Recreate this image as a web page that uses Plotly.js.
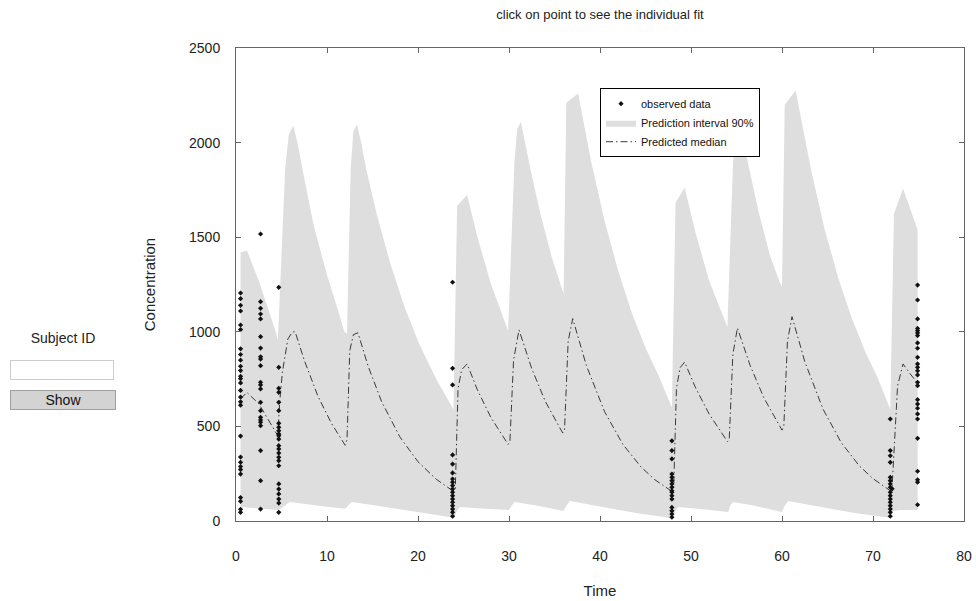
<!DOCTYPE html>
<html>
<head>
<meta charset="utf-8">
<script src="https://cdn.plot.ly/plotly-3.0.1.min.js"></script>
<style>
  html, body { margin: 0; padding: 0; background: #fff; font-family: "Liberation Sans", Arial, sans-serif; }
  #chart { position: absolute; left: 0; top: 0; width: 976px; height: 601px; }
  #panel { position: absolute; left: 0; top: 0; z-index: 10; }
  #lbl { position: absolute; left: 10px; top: 330px; width: 106px; text-align: center; font-size: 14px; color: #222; }
  #sid { position: absolute; left: 10px; top: 360px; width: 102px; height: 18px; border: 1px solid #ccc; padding: 0; margin: 0; }
  #btn { position: absolute; left: 10px; top: 390px; width: 106px; height: 20px; background: #d3d3d3; border: 1px solid #a0a0a0; font-size: 14px; font-family: "Liberation Sans", Arial, sans-serif; color: #111; padding: 0; margin: 0; }
</style>
</head>
<body>
<div id="chart"></div>
<div id="panel">
  <div id="lbl">Subject ID</div>
  <input id="sid" type="text">
  <button id="btn">Show</button>
</div>
<script>
// ---- Prediction interval 90%: upper bound ----
var upperTime = [0.5, 1.2, 2.5, 3.5, 4.3, 4.6, 5.0, 5.4, 5.8, 6.3, 6.8, 7.3, 8.5, 10, 11.3, 11.9, 12.2, 12.6, 12.9, 13.3, 13.8, 14.3, 15.5, 17, 18.5, 20.1, 22, 23.9,
  24.3, 25.4, 26.5, 28, 29.9, 30.6, 30.9, 31.3, 32.4, 33.5, 34.7, 35.8, 36.0, 36.3, 37.6, 39, 40.5, 42, 43.5, 45, 46.5, 47.9,
  48.3, 49.3, 50.5, 52, 53.8, 54.0, 54.6, 54.9, 55.3, 56.4, 57.5, 58.7, 59.8, 60.0, 60.3, 61.5, 63.2, 64.7, 66.2, 67.7, 69.2, 70.5, 71.9,
  72.3, 73.3, 74.2, 74.9];
var upperConc = [1420, 1430, 1270, 1130, 1010, 955, 1400, 1860, 2040, 2090, 1990, 1860, 1570, 1300, 1100, 1000, 990, 1860, 2060, 2095, 1990, 1860, 1615, 1354, 1134, 940, 750, 590,
  1665, 1723, 1506, 1255, 1006, 1900, 2070, 2110, 1850, 1614, 1394, 1220, 1200, 2210, 2260, 1905, 1587, 1321, 1100, 916, 763, 600,
  1681, 1763, 1523, 1269, 1040, 1025, 1870, 2070, 2120, 1860, 1620, 1400, 1255, 1240, 2200, 2275, 1855, 1540, 1282, 1068, 889, 759, 590,
  1622, 1757, 1640, 1540];

// ---- Prediction interval 90%: lower bound ----
var lowerTime = [0.5, 2.5, 4.7, 5.2, 5.9, 8, 10, 12.0, 12.3, 12.7, 15, 18, 21, 23.8, 24.0, 24.3, 24.6, 27, 30.0, 30.3, 30.6, 33, 36.0, 36.3, 36.7, 40, 44, 47.8, 48.0, 48.3, 48.6,
  51, 54.1, 54.3, 54.6, 57, 60.0, 60.3, 60.7, 64, 68, 71.6, 71.9, 72.2, 73.0, 74.9];
var lowerConc = [74, 66, 58, 75, 100, 86, 75, 65, 80, 100, 85, 62, 38, 18, 18, 55, 74, 66, 58, 80, 100, 82, 53, 80, 106, 76, 42, 16, 16, 55, 74,
  64, 48, 80, 100, 80, 48, 80, 106, 76, 42, 18, 18, 53, 58, 58];

// ---- Predicted median ----
var medianTime = [0.5, 1.2, 2.5, 3.5, 4.3, 4.6, 4.8, 5.1, 5.7, 6.2, 6.5, 7.5, 9, 10.5, 12.0, 12.2, 12.5, 12.9, 13.4, 14.5, 16, 18, 20, 22, 23.8,
  24.1, 24.4, 24.8, 25.4, 26.5, 28, 29.9, 30.1, 30.5, 31.1, 32.5, 34, 35.9, 36.1, 36.5, 37.0, 38.5, 40.5, 42.5, 44.5, 46, 47.8,
  48.1, 48.4, 48.8, 49.3, 50.5, 52, 54.0, 54.2, 54.6, 55.1, 56.5, 58, 60.0, 60.2, 60.6, 61.1, 62.5, 64.5, 66.5, 68.5, 70, 71.9,
  72.1, 72.7, 73.3, 74.1, 74.8];
var medianConc = [645, 680, 620, 540, 475, 450, 629, 787, 962, 999, 1000, 850, 660, 515, 400, 430, 900, 985, 995, 821, 631, 445, 313, 221, 160,
  170, 700, 800, 830, 696, 548, 405, 420, 850, 1010, 805, 631, 465, 480, 950, 1070, 822, 578, 406, 286, 219, 160,
  180, 700, 810, 840, 704, 565, 420, 430, 880, 1020, 822, 652, 480, 500, 950, 1080, 843, 592, 415, 291, 224, 160,
  180, 714, 830, 777, 734];

// ---- Observed data (grouped by sampling time) ----
var obsTimes = [0.5, 2.7, 4.7, 23.8, 47.9, 71.9, 72.1, 74.9];
var obsConc = [
  [1205, 1175, 1140, 1110, 1036, 1012, 910, 880, 850, 818, 795, 765, 752, 730, 690, 655, 630, 612, 449, 338, 310, 288, 272, 248, 124, 104, 62, 46],
  [1517, 1159, 1124, 1094, 1068, 974, 914, 868, 856, 821, 733, 719, 698, 627, 583, 548, 534, 522, 504, 372, 213, 63],
  [1235, 812, 701, 680, 627, 583, 516, 495, 477, 460, 451, 433, 398, 381, 359, 337, 319, 292, 196, 169, 143, 116, 95, 46],
  [1262, 807, 719, 349, 301, 254, 222, 205, 187, 169, 152, 134, 116, 99, 81, 63, 46, 25],
  [424, 372, 328, 248, 231, 213, 196, 178, 160, 152, 134, 116, 72, 54, 37, 20],
  [539, 372, 345, 310, 231, 213, 196, 178, 152, 134, 116, 99, 81, 63, 46, 25],
  [170],
  [1247, 1168, 1068, 1018, 1006, 994, 980, 941, 913, 865, 830, 812, 794, 772, 733, 715, 641, 618, 596, 566, 539, 437, 263, 218, 205, 86]
];

// tick labels
var xTicks = [0, 10, 20, 30, 40, 50, 60, 70, 80];
var yTicks = [0, 500, 1000, 1500, 2000, 2500];

// build band polygon and flatten observations
var bandX = upperTime.concat(lowerTime.slice().reverse());
var bandY = upperConc.concat(lowerConc.slice().reverse());
var obsX = [], obsY = [];
obsTimes.forEach(function (t, i) {
  obsConc[i].forEach(function (c) { obsX.push(t); obsY.push(c); });
});

var FONT = '"Liberation Sans", Arial, sans-serif';
var NARROW = '"Liberation Sans Narrow", "Arial Narrow", "Liberation Sans", Arial, sans-serif';

var traces = [
  {
    x: bandX, y: bandY, type: 'scatter', mode: 'lines', fill: 'toself',
    fillcolor: '#dedede', line: { width: 0, color: '#dedede' },
    name: 'Prediction interval 90%', legendrank: 2, hoverinfo: 'skip'
  },
  {
    x: medianTime, y: medianConc, type: 'scatter', mode: 'lines',
    line: { color: '#3a3a3a', width: 1, dash: '7px,3px,1.5px,3px' },
    name: 'Predicted median', legendrank: 3
  },
  {
    x: obsX, y: obsY, type: 'scatter', mode: 'markers',
    marker: { symbol: 'diamond', size: 4, color: '#111' },
    name: 'observed data', legendrank: 1
  }
];

var axisCommon = {
  showline: true, mirror: 'ticks', linecolor: '#666', linewidth: 1,
  ticks: 'inside', ticklen: 5, tickcolor: '#666', showgrid: false, zeroline: false,
  tickfont: { family: FONT, size: 14, color: '#222' }
};

var layout = {
  width: 976, height: 601,
  margin: { l: 236, r: 12, t: 48, b: 80 },
  paper_bgcolor: '#fff', plot_bgcolor: '#fff',
  title: {
    text: 'click on point to see the individual fit',
    font: { family: FONT, size: 13, color: '#222' },
    xref: 'paper', x: 0.5, xanchor: 'center',
    yref: 'container', y: 1 - 14 / 601, yanchor: 'middle'
  },
  xaxis: Object.assign({}, axisCommon, {
    range: [0, 80], tickvals: xTicks, ticktext: xTicks.map(String),
    ticklabelstandoff: 22,
    title: { text: 'Time', font: { family: FONT, size: 15, color: '#222' }, standoff: 22 }
  }),
  yaxis: Object.assign({}, axisCommon, {
    range: [0, 2500], tickvals: yTicks, ticktext: yTicks.map(String),
    ticklabelstandoff: 12,
    title: { text: 'Concentration', font: { family: FONT, size: 15, color: '#222' }, standoff: 29 }
  }),
  showlegend: true,
  legend: {
    x: 0.5, y: 0.915, xanchor: 'left', yanchor: 'top',
    bgcolor: '#fff', bordercolor: '#000', borderwidth: 1,
    font: { family: NARROW, size: 11, color: '#111' },
    itemwidth: 30, tracegroupgap: 0, traceorder: 'normal'
  }
};

Plotly.newPlot('chart', traces, layout, { displayModeBar: false, responsive: false });
</script>
</body>
</html>
